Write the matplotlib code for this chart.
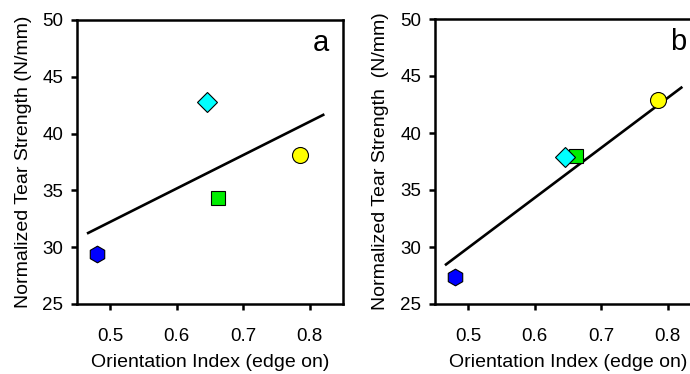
import matplotlib
matplotlib.use("Agg")
import matplotlib.pyplot as plt

plt.rcParams['font.family'] = ['Liberation Sans', 'DejaVu Sans']

# Orientation index (edge on) for the four samples
orientation = [0.480, 0.646, 0.662, 0.785]
# Normalized tear strength (N/mm)
tear_a = [29.4, 42.8, 34.3, 38.1]
tear_b = [27.4, 37.9, 38.0, 42.9]

# Trend lines (end points)
trend_x = [0.465, 0.822]
trend_a = [31.2, 41.7]
trend_b = [28.4, 44.05]

markers = ['h', 'D', 's', 'o']
colors = ['#0000FF', '#00FFFF', '#00EE00', '#FFFF00']
sizes = [12, 10, 10, 11.5]
# drawing order: square before diamond so the diamond sits in front
order = [0, 2, 1, 3]

xticks = [0.5, 0.6, 0.7, 0.8]
yticks = [25, 30, 35, 40, 45, 50]

fig = plt.figure(figsize=(6.9, 3.74), dpi=100)
ax_a = fig.add_axes([77 / 690, 1 - 304 / 374, 266 / 690, 284 / 374])
ax_b = fig.add_axes([435 / 690, 1 - 304 / 374, 266 / 690, 285 / 374])

panels = [
    (ax_a, tear_a, trend_a, 'a', 'Normalized Tear Strength (N/mm)', 7),
    (ax_b, tear_b, trend_b, 'b', 'Normalized Tear Strength  (N/mm)', 8),
]

for ax, tear, trend, letter, ylab, ypad in panels:
    ax.plot(trend_x, trend, color='black', lw=1.9, solid_capstyle='butt', zorder=2)
    for i in order:
        ax.plot(orientation[i], tear[i], marker=markers[i], ms=sizes[i],
                mfc=colors[i], mec='black', mew=0.8, ls='none', zorder=3)
    ax.set_xlim(0.45, 0.85)
    ax.set_ylim(25, 50)
    ax.set_xticks(xticks)
    ax.set_xticklabels([f'{t:.1f}' for t in xticks])
    ax.set_yticks(yticks)
    for s in ax.spines.values():
        s.set_linewidth(1.8)
    ax.tick_params(direction='out', length=4, width=1.8, labelsize=13.5)
    ax.tick_params(axis='x', pad=13.5)
    ax.tick_params(axis='y', pad=6)
    ax.set_xlabel('Orientation Index (edge on)', fontsize=14, labelpad=6.5)
    ax.set_ylabel(ylab, fontsize=14, labelpad=ypad)
    ax.text(0.915, 0.92, letter, transform=ax.transAxes, fontsize=21,
            ha='center', va='center')

fig.savefig('out.png', dpi=100, facecolor='white')
